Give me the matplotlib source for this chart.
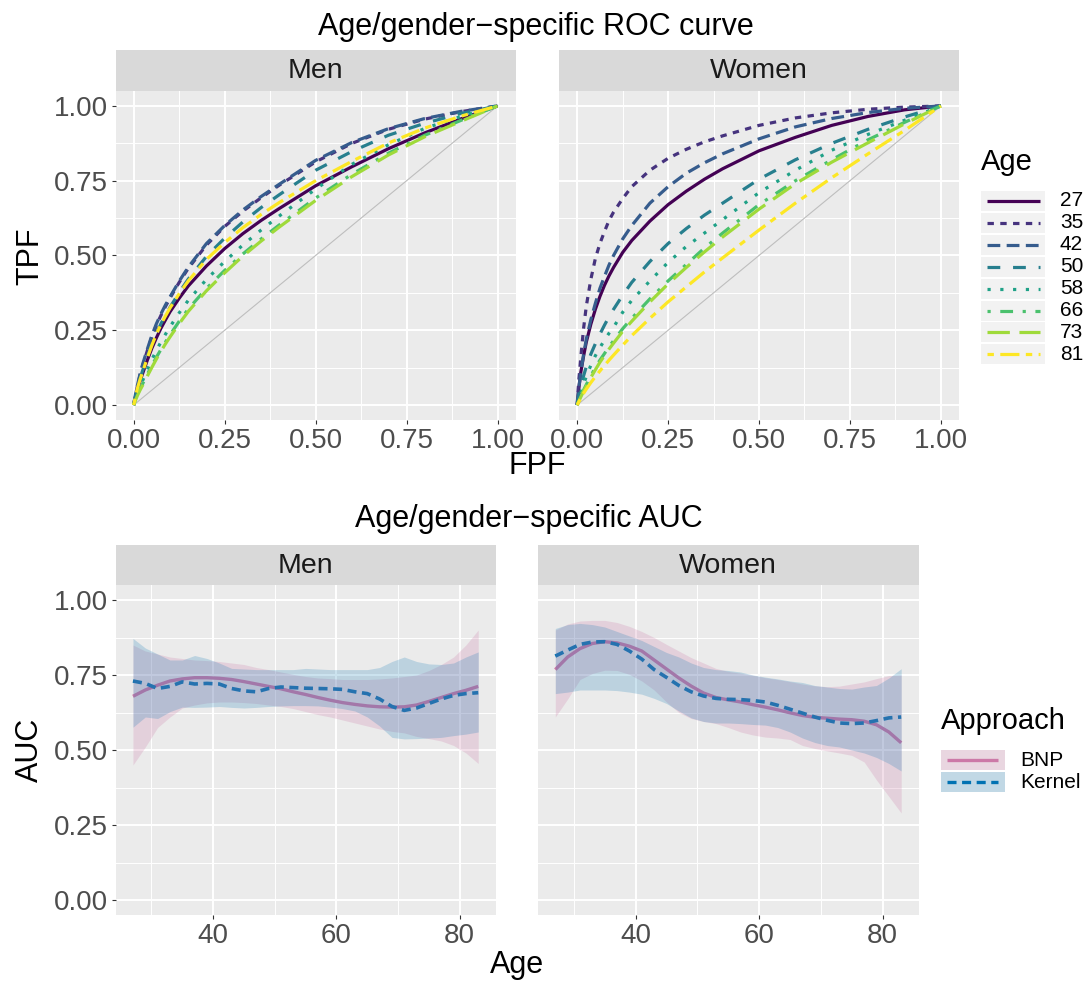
import matplotlib
matplotlib.use("Agg")
import matplotlib.pyplot as plt
from matplotlib.patches import Rectangle
from matplotlib.lines import Line2D

plt.rcParams['font.family'] = ['Liberation Sans', 'DejaVu Sans']
plt.rcParams['lines.scale_dashes'] = False

W, H, DPI = 1088, 984, 100

# ---------------- ROC data ----------------
fpf = [0, .0025, .005, .01, .0175, .025, .0375, .05, .0625, .075, .0875, .1, .125, .15,
       .2, .25, .3, .35, .4, .5, .6, .7, .8, .9, 1.0]
roc_ages = ["27", "35", "42", "50", "58", "66", "73", "81"]

men_27 = [0, .015, .028, .05, .08, .107, .15, .19, .225, .257, .285, .312, .357, .398,
          .465, .523, .573, .617, .657, .733, .797, .857, .91, .957, 1]
men_35 = [0, .018, .034, .062, .10, .133, .182, .228, .267, .30, .33, .358, .41, .457,
          .535, .597, .648, .693, .735, .813, .875, .922, .956, .981, 1]
men_42 = [0, .019, .036, .065, .104, .138, .187, .233, .272, .305, .335, .362, .414, .461,
          .54, .60, .652, .697, .738, .818, .878, .924, .958, .982, 1]
men_50 = [0, .015, .029, .055, .088, .117, .162, .203, .24, .272, .30, .327, .376, .421,
          .497, .558, .612, .66, .703, .785, .848, .902, .942, .975, 1]
men_58 = [0, .01, .02, .04, .063, .083, .118, .152, .183, .211, .237, .262, .308, .35,
          .42, .48, .535, .585, .632, .722, .805, .87, .925, .965, 1]
men_66 = [0, .009, .018, .035, .055, .072, .103, .132, .16, .186, .211, .235, .28, .321,
          .39, .45, .505, .555, .602, .692, .772, .842, .902, .952, 1]
men_73 = [0, .008, .016, .031, .05, .067, .097, .126, .154, .18, .205, .228, .272, .313,
          .382, .442, .498, .548, .595, .684, .764, .836, .897, .949, 1]
men_81 = [0, .016, .03, .055, .085, .112, .158, .20, .237, .27, .298, .325, .372, .415,
          .487, .543, .593, .637, .677, .75, .815, .876, .926, .966, 1]

women_27 = [0, .033, .06, .11, .163, .21, .27, .32, .363, .40, .432, .46, .51, .55,
            .615, .67, .715, .755, .79, .85, .895, .935, .965, .987, 1]
women_35 = [0, .05, .09, .16, .255, .33, .42, .49, .54, .58, .617, .645, .69, .73,
            .785, .825, .855, .88, .90, .935, .96, .977, .989, .996, 1]
women_42 = [0, .034, .062, .11, .168, .22, .285, .34, .39, .43, .468, .50, .555, .60,
            .675, .73, .775, .81, .84, .89, .93, .958, .978, .992, 1]
women_50 = [0, .018, .034, .064, .097, .128, .17, .205, .237, .267, .295, .32, .367, .41,
            .48, .54, .59, .635, .675, .755, .82, .875, .922, .963, 1]
women_58 = [0, .011, .022, .043, .07, .095, .133, .165, .192, .217, .24, .26, .31, .35,
            .415, .477, .53, .575, .62, .71, .785, .852, .905, .952, 1]
women_66 = [0, .008, .016, .03, .05, .068, .098, .125, .15, .172, .195, .215, .255, .29,
            .355, .415, .47, .525, .575, .67, .75, .82, .887, .945, 1]
women_73 = [0, .007, .014, .027, .046, .063, .092, .118, .143, .165, .187, .207, .246, .28,
            .345, .405, .46, .512, .562, .655, .74, .812, .877, .94, 1]
women_81 = [0, .006, .012, .023, .039, .053, .075, .095, .114, .132, .15, .167, .20, .232,
            .29, .345, .395, .445, .492, .585, .675, .76, .84, .918, 1]

# ---------------- AUC data ----------------
ages = [27, 29, 31, 33, 35, 37, 39, 41, 43, 45, 47, 49, 51, 53, 55, 57, 59, 61, 63, 65, 67, 69, 71, 73, 75, 77, 79, 81, 83]

men_bnp = [.679, .70, .716, .73, .737, .741, .741, .739, .735, .728, .72, .712, .704, .694, .685, .675, .666, .658, .652, .647, .644, .643, .644, .650, .662, .675, .688, .699, .712]
men_bnp_lo = [.45, .51, .575, .61, .64, .65, .657, .66, .66, .658, .655, .65, .645, .638, .628, .618, .61, .60, .59, .58, .57, .562, .557, .545, .538, .53, .515, .49, .455]
men_bnp_hi = [.85, .83, .82, .81, .805, .80, .798, .795, .79, .785, .775, .768, .76, .752, .745, .74, .738, .735, .735, .735, .737, .74, .745, .75, .765, .785, .81, .85, .90]
men_ker = [.73, .722, .705, .712, .727, .72, .722, .72, .705, .697, .694, .705, .71, .708, .706, .705, .704, .702, .694, .688, .67, .645, .632, .64, .655, .67, .682, .688, .691]
men_ker_lo = [.576, .61, .605, .628, .643, .642, .643, .645, .642, .64, .642, .645, .647, .648, .648, .647, .643, .638, .63, .61, .58, .542, .537, .538, .54, .542, .548, .553, .56]
men_ker_hi = [.872, .84, .82, .80, .80, .815, .805, .79, .772, .77, .768, .768, .768, .768, .772, .77, .768, .768, .768, .768, .775, .795, .81, .795, .787, .785, .79, .81, .827]

women_bnp = [.768, .81, .838, .855, .861, .857, .846, .83, .80, .77, .74, .713, .69, .675, .667, .66, .651, .643, .634, .624, .615, .609, .606, .603, .601, .596, .584, .56, .524]
women_bnp_lo = [.61, .67, .735, .755, .766, .765, .752, .73, .70, .66, .625, .605, .595, .588, .575, .56, .55, .543, .54, .535, .515, .505, .497, .49, .482, .46, .40, .345, .29]
women_bnp_hi = [.90, .92, .93, .932, .932, .925, .912, .895, .875, .852, .83, .808, .79, .772, .762, .756, .749, .741, .735, .728, .72, .714, .711, .713, .72, .727, .738, .748, .75]
women_ker = [.813, .833, .852, .86, .861, .852, .83, .803, .768, .742, .715, .694, .68, .672, .669, .668, .665, .66, .649, .636, .623, .61, .599, .59, .588, .59, .598, .607, .61]
women_ker_lo = [.688, .693, .70, .70, .70, .698, .693, .686, .672, .655, .63, .607, .595, .59, .59, .588, .585, .583, .575, .56, .54, .525, .515, .51, .50, .49, .475, .455, .43]
women_ker_hi = [.905, .918, .922, .918, .91, .895, .88, .865, .845, .825, .81, .79, .775, .768, .765, .76, .75, .743, .737, .73, .725, .715, .71, .705, .703, .71, .715, .74, .771]

roc_colors = ["#440154", "#46337E", "#365C8D", "#277F8E", "#1FA187", "#4AC16D", "#9FDA3A", "#FDE725"]
roc_patterns = [None, (2, 2), (4, 2), (4, 4), (1, 3), (1, 3, 4, 3), (7, 3), (2, 2, 6, 2)]
UNIT = 2.3
ROC_LW = 2.3

BNP_COL = "#CC79A7"
KER_COL = "#0072B2"

fig = plt.figure(figsize=(W / DPI, H / DPI), dpi=DPI)


def px_axes(x0, y0, x1, y1, **kw):
    return fig.add_axes([x0 / W, 1 - y1 / H, (x1 - x0) / W, (y1 - y0) / H], **kw)


def style_panel(ax, show_y):
    ax.set_facecolor("#EBEBEB")
    for s in ax.spines.values():
        s.set_visible(False)
    ax.grid(which="major", color="white", lw=1.4, zorder=0)
    ax.grid(which="minor", color="white", lw=0.7, zorder=0)
    ax.set_axisbelow(True)
    ax.tick_params(which="major", length=2.75, width=0.8, color="#333333",
                   labelsize=20, labelcolor="#4D4D4D", pad=3)
    ax.tick_params(which="minor", length=0)
    if not show_y:
        ax.tick_params(axis="y", which="both", left=False, labelleft=False)


def line_kw(i):
    p = roc_patterns[i]
    kw = dict(color=roc_colors[i], lw=ROC_LW, solid_capstyle="butt", dash_capstyle="butt",
              solid_joinstyle="round")
    if p is not None:
        kw["dashes"] = tuple(v * UNIT for v in p)
    return kw


# overlay for text, strips and legends (pixel coords)
ov = fig.add_axes([0, 0, 1, 1])
ov.set_xlim(0, W)
ov.set_ylim(H, 0)
ov.axis("off")
ov.patch.set_alpha(0)

# ---------------- top row ----------------
top_panels = [((115.5, 91, 515.7, 420), "Men",
               [men_27, men_35, men_42, men_50, men_58, men_66, men_73, men_81], True),
              ((559, 91, 959, 420), "Women",
               [women_27, women_35, women_42, women_50, women_58, women_66, women_73, women_81], False)]
ticks01 = [0, 0.25, 0.5, 0.75, 1.0]
labs01 = ["0.00", "0.25", "0.50", "0.75", "1.00"]
minor01 = [0.125, 0.375, 0.625, 0.875]
for (box, name, curves, showy) in top_panels:
    ax = px_axes(*box)
    style_panel(ax, showy)
    ax.set_xlim(-0.05, 1.05)
    ax.set_ylim(-0.05, 1.05)
    ax.set_xticks(ticks01)
    ax.set_xticklabels(labs01)
    ax.set_yticks(ticks01)
    ax.set_yticklabels(labs01)
    ax.set_xticks(minor01, minor=True)
    ax.set_yticks(minor01, minor=True)
    ax.plot([0, 1], [0, 1], color="#BEBEBE", lw=0.8, zorder=1)
    for i, tpf in enumerate(curves):
        ax.plot(fpf, tpf, zorder=2 + i, **line_kw(i))
    ov.add_patch(Rectangle((box[0], 50), box[2] - box[0], 41, color="#D9D9D9", lw=0))
    ov.text((box[0] + box[2]) / 2, 71, name, ha="center", va="center", fontsize=20.5, color="#1A1A1A")

# ---------------- bottom row ----------------
bot_panels = [((115.7, 585, 495.5, 915), "Men", men_bnp, men_bnp_lo, men_bnp_hi, men_ker, men_ker_lo, men_ker_hi, True),
              ((538, 585, 918.5, 915), "Women", women_bnp, women_bnp_lo, women_bnp_hi, women_ker, women_ker_lo, women_ker_hi, False)]
for (box, name, b, blo, bhi, k, klo, khi, showy) in bot_panels:
    ax = px_axes(*box)
    style_panel(ax, showy)
    ax.set_xlim(24.2, 85.8)
    ax.set_ylim(-0.05, 1.05)
    ax.set_xticks([40, 60, 80])
    ax.set_xticks([30, 50, 70], minor=True)
    ax.set_yticks(ticks01)
    ax.set_yticklabels(labs01)
    ax.set_yticks(minor01, minor=True)
    ax.plot(ages, b, color=BNP_COL, lw=2.4, zorder=2, solid_capstyle="butt")
    ax.plot(ages, k, color=KER_COL, lw=2.6, zorder=2, dashes=(6.5, 4), dash_capstyle="butt")
    ax.fill_between(ages, blo, bhi, color=BNP_COL, alpha=0.23, lw=0, zorder=3)
    ax.fill_between(ages, klo, khi, color=KER_COL, alpha=0.2, lw=0, zorder=4)
    ov.add_patch(Rectangle((box[0], 545), box[2] - box[0], 40, color="#D9D9D9", lw=0))
    ov.text((box[0] + box[2]) / 2, 566, name, ha="center", va="center", fontsize=20.5, color="#1A1A1A")

# ---------------- titles ----------------
ov.text(536, 27, "Age/gender\u2212specific ROC curve", ha="center", va="center", fontsize=22, color="black")
ov.text(529, 519, "Age/gender\u2212specific AUC", ha="center", va="center", fontsize=22, color="black")
ov.text(537, 466, "FPF", ha="center", va="center", fontsize=22, color="black")
ov.text(517, 965, "Age", ha="center", va="center", fontsize=22, color="black")
ov.text(30, 256, "TPF", ha="center", va="center", fontsize=22, rotation=90, color="black")
ov.text(30, 750, "AUC", ha="center", va="center", fontsize=22, rotation=90, color="black")

# ---------------- legend: Age ----------------
ov.text(981, 162, "Age", ha="left", va="center", fontsize=21, color="black")
for i, lab in enumerate(roc_ages):
    cy = 201 + i * 21.9
    ov.add_patch(Rectangle((981, cy - 10), 64, 20, color="#F2F2F2", lw=0))
    ov.add_line(Line2D([987, 1040], [cy, cy], **line_kw(i)))
    ov.text(1060, cy, lab, ha="left", va="center", fontsize=15, color="black")

# ---------------- legend: Approach ----------------
ov.text(941, 721, "Approach", ha="left", va="center", fontsize=21, color="black")
for cy, lab, col, alpha, dashed in [(760, "BNP", BNP_COL, 0.23, False), (782, "Kernel", KER_COL, 0.2, True)]:
    ov.add_patch(Rectangle((941, cy - 10), 64, 20, color="#F2F2F2", lw=0))
    kw = dict(color=col, lw=2.4, solid_capstyle="butt", dash_capstyle="butt")
    if dashed:
        kw["dashes"] = (6.5, 4)
    ov.add_line(Line2D([947, 998], [cy, cy], **kw))
    ov.add_patch(Rectangle((941, cy - 10), 64, 20, color=col, alpha=alpha, lw=0))
    ov.text(1020, cy, lab, ha="left", va="center", fontsize=15, color="black")

fig.savefig("out.png", dpi=DPI, facecolor="white")
